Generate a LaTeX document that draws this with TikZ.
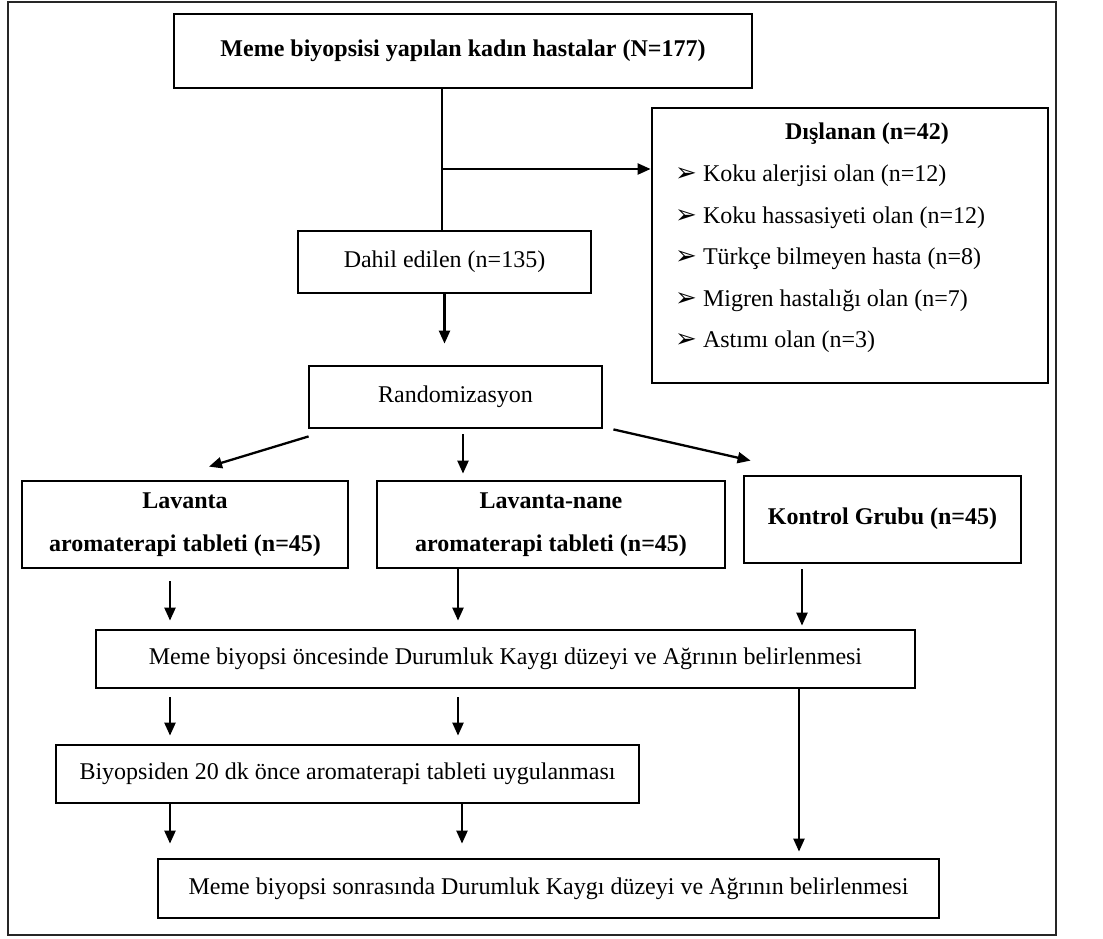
\documentclass[tikz,border=0pt,12pt]{standalone}
\usepackage{fontspec}
\setmainfont{Liberation Serif}
\newfontfamily\isaretfont{DejaVu Sans}
\usetikzlibrary{arrows.meta}
\colorlet{cerceve}{black!85}

\begin{document}
\begin{tikzpicture}[
        x=0.5pt,y=-0.5pt,
        kutu/.style={draw,line width=1.4pt,inner sep=0pt,align=center},
        kalin/.style={font=\bfseries},
        ok/.style={line width=1.15pt,-{Triangle[length=6.5pt,width=5.5pt]}}
    ]
    \useasboundingbox (0,0) rectangle (1103,938);
    \draw [cerceve,line width=1pt] (8,2) rectangle (1056,935);

    \node [kutu,kalin,minimum width=289pt,minimum height=37pt] (hastalar) at (463,51)
        {\raisebox{1.5pt}{Meme biyopsisi yapılan kadın hastalar (N=177)}};
    \node [kutu,minimum width=146.5pt,minimum height=31pt] (dahil) at (444.5,262)
        {Dahil edilen (n=135)};
    \node [kutu,minimum width=198pt,minimum height=137.5pt] (disla) at (850,245.5) {};
    \node [kalin] (dislabaslik) at ([xshift=8.5pt,yshift=-13.5pt]disla.north) {Dışlanan (n=42)};
    \foreach \madde [count=\i, evaluate=\i as \y using -37.5-(\i-1)*20.75] in
        {Koku alerjisi olan (n=12), Koku hassasiyeti olan (n=12), Türkçe bilmeyen hasta (n=8),
         Migren hastalığı olan (n=7), Astımı olan (n=3)}
        \node [anchor=base west,inner sep=0pt] (madde\i) at ([xshift=12pt,yshift=\y pt]disla.north west)
            {\makebox[14pt][l]{\isaretfont\fontsize{13}{13}\selectfont ➢}\madde};

    \node [kutu,minimum width=146.5pt,minimum height=31pt] (rand) at (455.5,397) {Randomizasyon};
    \node [kutu,kalin,minimum width=163pt,minimum height=43.5pt] (lav) at (185,524.5)
        {Lavanta\\[7pt]aromaterapi tableti (n=45)};
    \node [kutu,kalin,minimum width=174pt,minimum height=43.5pt] (lavnane) at (551,524.5)
        {Lavanta-nane\\[7pt]aromaterapi tableti (n=45)};
    \node [kutu,kalin,minimum width=138.5pt,minimum height=43.5pt] (kontrol) at (882.5,519.5)
        {\raisebox{3pt}{Kontrol Grubu (n=45)}};
    \node [kutu,minimum width=409.5pt,minimum height=29pt] (once) at (505.5,659)
        {Meme biyopsi öncesinde Durumluk Kaygı düzeyi ve Ağrının belirlenmesi};
    \node [kutu,minimum width=291.5pt,minimum height=29pt] (uyg) at (347.5,774)
        {Biyopsiden 20 dk önce aromaterapi tableti uygulanması};
    \node [kutu,minimum width=390.5pt,minimum height=29.5pt] (sonra) at (548.5,888.5)
        {Meme biyopsi sonrasında Durumluk Kaygı düzeyi ve Ağrının belirlenmesi};

    \coordinate (ayrim) at (442,169);
    \draw [line width=0.8pt] (ayrim |- hastalar.south) -- (ayrim |- dahil.north);
    \draw [ok] (ayrim) -- (ayrim -| disla.west);
    \draw [ok,shorten >=10.5pt] (dahil.south) -- (dahil.south |- rand.north);

    \coordinate (r2) at ([xshift=3.75pt]rand.south);
    \draw [ok] ([xshift=0.5pt,yshift=-3.5pt]rand.south west) -- ([xshift=12pt,yshift=6.5pt]lav.north);
    \draw [ok,shorten <=2.5pt,shorten >=3pt] (r2) -- (r2 |- lavnane.north);
    \draw [ok] ([xshift=5pt]rand.south east) -- ([xshift=4pt,yshift=7pt]kontrol.north west);

    \coordinate (sol) at ([xshift=-7.5pt]lav.south);
    \coordinate (orta) at ([xshift=-46.5pt]lavnane.south);
    \coordinate (sag) at ([xshift=-40.25pt]kontrol.south);
    \draw [ok,shorten <=6pt,shorten >=4pt] (sol) -- (sol |- once.north);
    \draw [ok,shorten >=4pt] (orta) -- (orta |- once.north);
    \draw [ok,shorten <=2.5pt,shorten >=1.5pt] (sag) -- (sag |- once.north);
    \draw [ok,shorten <=4pt,shorten >=4pt] (sol |- once.south) -- (sol |- uyg.north);
    \draw [ok,shorten <=4pt,shorten >=4pt] (orta |- once.south) -- (orta |- uyg.north);
    \draw [ok,shorten >=3pt] ([xshift=-1.5pt]sag |- once.south) -- ([xshift=-1.5pt]sag |- sonra.north);
    \draw [ok,shorten >=7pt] (sol |- uyg.south) -- (sol |- sonra.north);
    \draw [ok,shorten >=7pt] ([xshift=2pt]orta |- uyg.south) -- ([xshift=2pt]orta |- sonra.north);
\end{tikzpicture}
\end{document}
